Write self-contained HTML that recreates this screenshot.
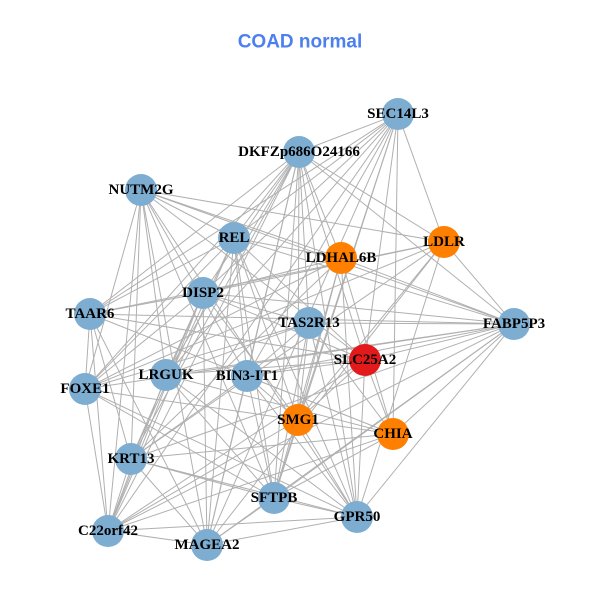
<!DOCTYPE html>
<html><head><meta charset="utf-8"><style>
html,body{margin:0;padding:0;background:#fff;}
svg{display:block}
text{font-family:"Liberation Serif",serif;font-weight:bold;font-size:15px;fill:#000;text-anchor:middle;dominant-baseline:central}
</style></head><body>
<svg id="s" width="600" height="600" viewBox="0 0 600 600">
<text x="300" y="42" style="font-family:'Liberation Sans',sans-serif;font-size:19px;fill:#4c7ff0">COAD normal</text>
<g id="e" stroke="#b0b0b0" stroke-width="1"></g>
<g id="n"></g>
</svg>
<script>
var N=[["SEC14L3",398,114,0],["DKFZp686O24166",299,152,0],["NUTM2G",141,190,0],["REL",234,238,0],["LDHAL6B",341,258,1],["LDLR",444,242,1],["DISP2",203,293,0],["TAAR6",90,314,0],["TAS2R13",309,323,0],["FABP5P3",514,324,0],["SLC25A2",365,360,2],["LRGUK",166,375,0],["BIN3-IT1",247,376,0],["FOXE1",85,389,0],["SMG1",298,420,1],["CHIA",393,434,1],["KRT13",131,459,0],["SFTPB",274,498,0],["GPR50",357,517,0],["C22orf42",108,531,0],["MAGEA2",207,545,0]];
var C=["#7eadd2","#ff7f00","#e31a1c"];
var e=document.getElementById("e"),n=document.getElementById("n"),h="";
for(var i=0;i<N.length;i++)for(var j=i+1;j<N.length;j++){
 var r=Math.abs(Math.sin(i*12.9898+j*78.233)*43758.5453)%1;
 if(r<0.62) h+='<line x1="'+N[i][1]+'" y1="'+N[i][2]+'" x2="'+N[j][1]+'" y2="'+N[j][2]+'"/>';
}
e.innerHTML=h;h="";
N.forEach(function(d){h+='<circle cx="'+d[1]+'" cy="'+d[2]+'" r="16" fill="'+C[d[3]]+'"/>';});
N.forEach(function(d){h+='<text x="'+d[1]+'" y="'+d[2]+'">'+d[0]+'</text>';});
n.innerHTML=h;
</script>
</body></html>
